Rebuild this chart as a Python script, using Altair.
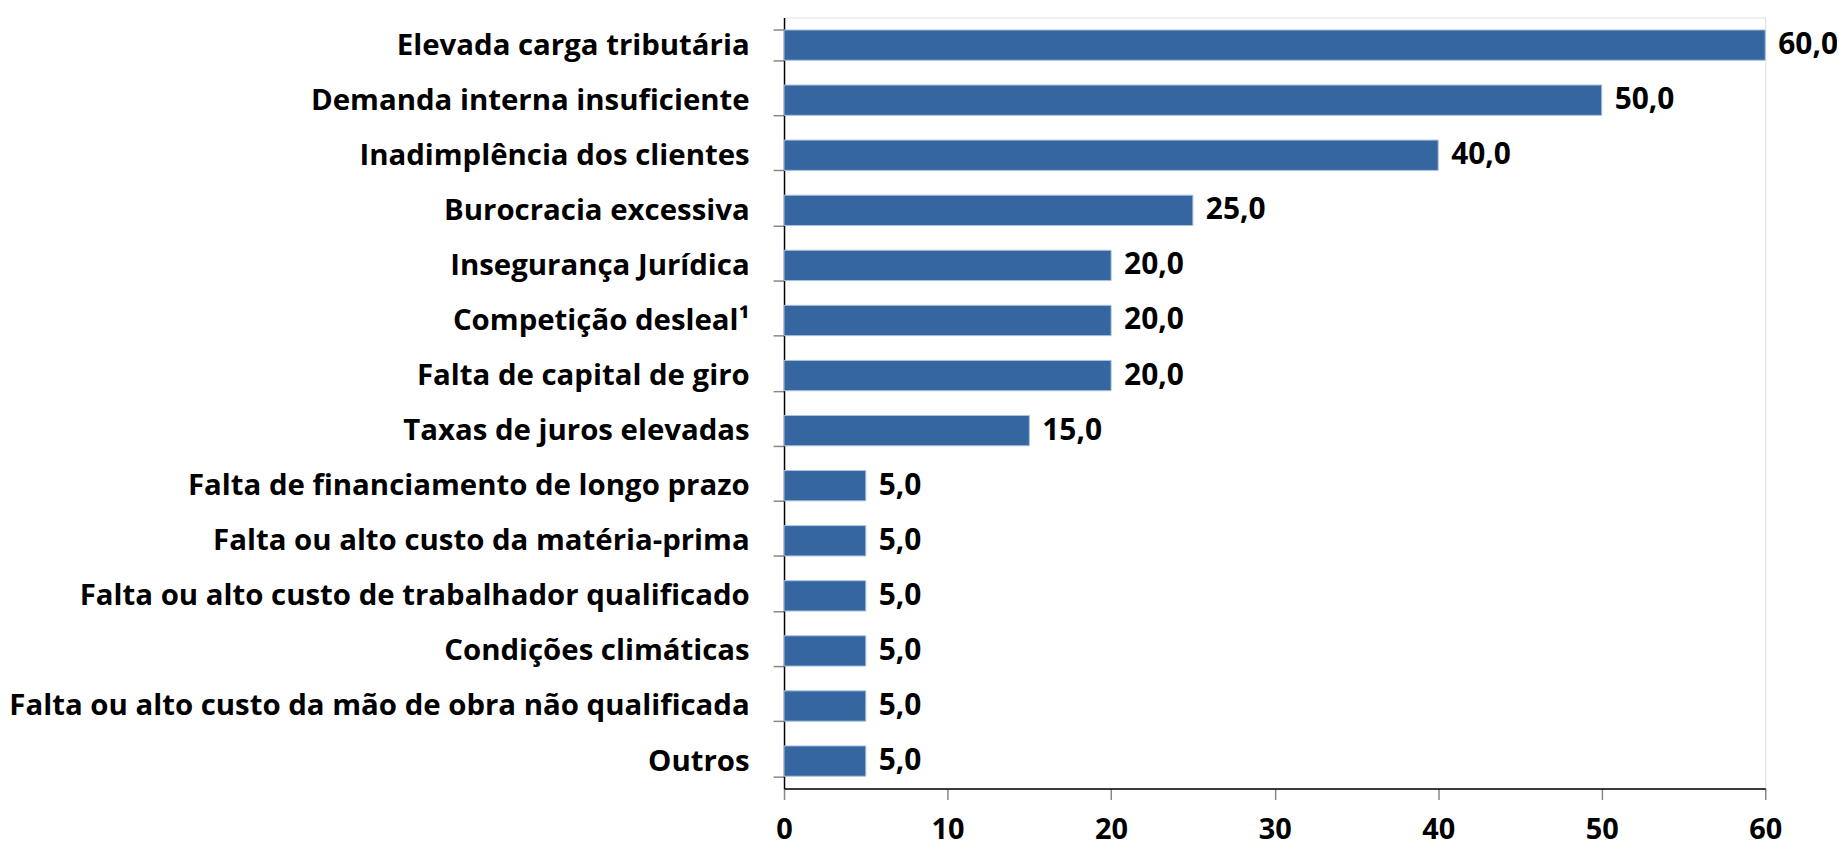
import altair as alt
import pandas as pd

categories = [
    "Elevada carga tributária",
    "Demanda interna insuficiente",
    "Inadimplência dos clientes",
    "Burocracia excessiva",
    "Insegurança Jurídica",
    "Competição desleal¹",
    "Falta de capital de giro",
    "Taxas de juros elevadas",
    "Falta de financiamento de longo prazo",
    "Falta ou alto custo da matéria-prima",
    "Falta ou alto custo de trabalhador qualificado",
    "Condições climáticas",
    "Falta ou alto custo da mão de obra não qualificada",
    "Outros",
]
values = [60.0, 50.0, 40.0, 25.0, 20.0, 20.0, 20.0, 15.0, 5.0, 5.0, 5.0, 5.0, 5.0, 5.0]
x_ticks = [0, 10, 20, 30, 40, 50, 60]

df = pd.DataFrame({"cat": categories, "val": values})
df["label"] = [f"{v:.1f}".replace(".", ",") for v in values]

FONT = "Open Sans"

y_enc = alt.Y(
    "cat:N",
    sort=categories,
    title=None,
    scale=alt.Scale(paddingInner=0.45, paddingOuter=0.225),
    axis=alt.Axis(
        domainColor="black",
        domainWidth=1.5,
        tickColor="#888888",
        tickSize=11,
        tickWidth=1.5,
        tickBand="extent",
        labelFont=FONT,
        labelFontSize=29.5,
        labelFontWeight="bold",
        labelColor="black",
        labelPadding=24,
        labelLimit=900,
    ),
)

x_enc = alt.X(
    "val:Q",
    title=None,
    scale=alt.Scale(domain=[0, 60], nice=False),
    axis=alt.Axis(
        values=x_ticks,
        grid=False,
        domainColor="black",
        domainWidth=1.5,
        tickColor="#888888",
        tickSize=11,
        tickWidth=1.5,
        labelFont=FONT,
        labelFontSize=29,
        labelFontWeight="bold",
        labelColor="black",
        labelPadding=16,
        labelFlush=False,
    ),
)

bars = alt.Chart(df).mark_bar(
    color="#3566A0", stroke="#A9C1DE", strokeWidth=1
).encode(x=x_enc, y=y_enc)

text = alt.Chart(df).mark_text(
    align="left", baseline="middle", dx=13, font=FONT, fontSize=30,
    fontWeight="bold", color="black"
).encode(x="val:Q", y=alt.Y("cat:N", sort=categories), text="label:N")

chart = (
    (bars + text)
    .properties(
        width=985,
        height=774,
        autosize=alt.AutoSizeParams(type="none"),
        padding={"left": 779, "top": 8, "right": 72, "bottom": 58},
    )
    .configure_view(stroke=None)
    .configure(background="white")
)

chart.save("out.html", embed_options={"renderer": "svg", "actions": False})
